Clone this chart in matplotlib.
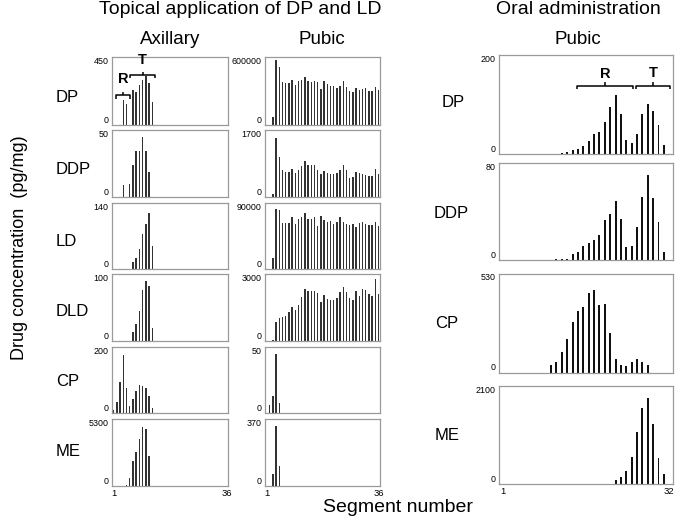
import matplotlib
matplotlib.use('Agg')
import matplotlib.pyplot as plt

plt.rcParams['font.family'] = ['Liberation Sans', 'DejaVu Sans']

# ---------------- data ----------------
compounds_topical = ['DP', 'DDP', 'LD', 'DLD', 'CP', 'ME']
compounds_oral = ['DP', 'DDP', 'CP', 'ME']

# Axillary (topical): start segment + values (0 = no bar)
axi_start = {'DP': 4, 'DDP': 4, 'LD': 7, 'DLD': 7, 'CP': 1, 'ME': 5}
axi_DP = [164, 140, 0, 230, 220, 265, 297, 320, 275, 153]
axi_DDP = [9, 0, 10, 24, 34, 34, 45, 34, 18.5]
axi_LD = [14.7, 23.6, 42.7, 75, 96, 119, 48.6]
axi_DLD = [13.5, 25, 45, 76, 89.5, 82.5, 19.5]
axi_CP = [10, 33, 95, 176, 76, 22, 41, 67, 84, 82, 77, 51, 15]
axi_ME = [80, 612, 1940, 2690, 3750, 4680, 4520, 2370, 30]
axi_ymax = {'DP': 450, 'DDP': 50, 'LD': 140, 'DLD': 100, 'CP': 200, 'ME': 5300}

# Pubic (topical)
pub_start = {'DP': 3, 'DDP': 3, 'LD': 3, 'DLD': 3, 'CP': 2, 'ME': 3}
pub_DP = [70000, 567000, 509000, 373000, 364000, 367000, 397000, 348000, 385000,
          391000, 424000, 388000, 376000, 385000, 379000, 312000, 382000, 355000,
          340000, 342000, 327000, 345000, 385000, 336000, 294000, 288000, 324000,
          303000, 318000, 320000, 297000, 297000, 330000, 303000]
pub_DDP = [86, 1490, 1020, 690, 630, 630, 716, 604, 690, 777, 906, 820, 803, 803,
           673, 578, 665, 621, 578, 587, 604, 690, 803, 673, 492, 518, 630, 604,
           587, 560, 544, 535, 708, 587]
pub_LD = [14500, 81800, 80400, 62700, 63600, 63600, 70900, 61800, 68200, 71800,
          76400, 69100, 69100, 71800, 59500, 72700, 67300, 64500, 65500, 61400,
          64500, 70900, 64500, 61400, 60000, 62300, 58200, 63600, 64500, 62000,
          60000, 60000, 64500, 59100]
pub_DLD = [60, 860, 1030, 1080, 1110, 1320, 1520, 1390, 1630, 1960, 2310, 2230,
           2260, 2250, 2130, 1760, 2060, 1880, 1820, 1850, 1940, 2190, 2400, 2190,
           1910, 1820, 2260, 2000, 2310, 2290, 2110, 2000, 2770, 2110]
pub_CP = [5.8, 13, 44.5, 7.9]
pub_ME = [65, 329, 111]
pub_ymax = {'DP': 600000, 'DDP': 1700, 'LD': 90000, 'DLD': 3000, 'CP': 50, 'ME': 370}

# Oral administration, pubic
oral_start = {'DP': 12, 'DDP': 11, 'CP': 10, 'ME': 22}
oral_DP = [2.8, 4.9, 7.7, 9.1, 16, 26.7, 41, 43.5, 65, 94, 120, 81, 28, 22, 40,
           81, 102, 86, 58, 18]
oral_DDP = [0.8, 0.8, 1.1, 5, 6.3, 11.6, 13.8, 16.2, 20.4, 33, 38, 49, 33.6, 10.5,
            11.8, 27, 52, 70, 51, 31, 6.9]
oral_CP = [37.5, 57, 109, 182, 268, 328, 348, 423, 443, 364, 369, 212, 71, 37.5,
           34, 55, 70, 54, 37.5]
oral_ME = [65, 144, 280, 568, 1107, 1632, 1833, 1287, 546, 201]
oral_ymax = {'DP': 200, 'DDP': 80, 'CP': 530, 'ME': 2100}

axi_vals = {'DP': axi_DP, 'DDP': axi_DDP, 'LD': axi_LD, 'DLD': axi_DLD, 'CP': axi_CP, 'ME': axi_ME}
pub_vals = {'DP': pub_DP, 'DDP': pub_DDP, 'LD': pub_LD, 'DLD': pub_DLD, 'CP': pub_CP, 'ME': pub_ME}
oral_vals = {'DP': oral_DP, 'DDP': oral_DDP, 'CP': oral_CP, 'ME': oral_ME}

# bracket annotations (segment ranges) for DP panels
axi_R = (1.8, 6.0)
axi_T = (6.1, 13.95)
oral_R = (14.85, 25.2)
oral_T = (25.9, 32.1)

# ---------------- layout ----------------
W, H = 676, 518
fig = plt.figure(figsize=(W / 100, H / 100), dpi=100)


def add_ax(l, r, t, b):
    return fig.add_axes([l / W, 1 - b / H, (r - l) / W, (b - t) / H])


top_rows = [(56.5, 125), (130, 197), (203.5, 269), (274, 341), (347, 413), (419, 486)]
oral_rows = [(55, 154), (163, 260), (273.5, 372.5), (386, 483.5)]
col_axi = (112, 228)
col_pub = (265, 380)
col_oral = (499, 673)

EDGE = '#9a9a9a'


def style(ax, ymax, xlim, xt, show_x):
    ax.set_ylim(0, ymax)
    ax.set_xlim(*xlim)
    ax.set_yticks([0, ymax])
    ax.set_yticklabels(['0', str(ymax)], fontsize=6.4)
    labs = ax.get_yticklabels()
    labs[0].set_va('bottom')
    labs[1].set_va('top')
    ax.tick_params(axis='both', length=0, pad=2.5)
    if show_x:
        ax.set_xticks(xt)
        ax.set_xticklabels([str(v) for v in xt], fontsize=6.8)
    else:
        ax.set_xticks([])
    for s in ax.spines.values():
        s.set_color(EDGE)
        s.set_linewidth(0.9)


def draw(ax, start, vals, width, color):
    segs = list(range(start, start + len(vals)))
    ax.bar(segs, vals, width=width, color=color, linewidth=0)


def bracket(ax, rng, y, tip, up, label, label_y, fs):
    x0, x1 = rng
    xc = (x0 + x1) / 2
    kw = dict(color='black', lw=1.1, clip_on=False, solid_capstyle='butt')
    ax.plot([x0, x0, x1, x1], [y - tip, y, y, y - tip], **kw)
    ax.plot([xc, xc], [y, y + up], **kw)
    ax.text(xc, label_y, label, ha='center', va='center', fontsize=fs,
            fontweight='bold', clip_on=False)


for i, c in enumerate(compounds_topical):
    t, b = top_rows[i]
    last = (i == len(compounds_topical) - 1)
    ax = add_ax(col_axi[0], col_axi[1], t, b)
    draw(ax, axi_start[c], axi_vals[c], 0.44, '#333333')
    style(ax, axi_ymax[c], (0.5, 36.5), [1, 36], last)
    if c == 'DP':
        bracket(ax, axi_R, 198, 27, 22, 'R', 299, 10.5)
        bracket(ax, axi_T, 328, 22, 23, 'T', 427, 10.5)
    ax2 = add_ax(col_pub[0], col_pub[1], t, b)
    draw(ax2, pub_start[c], pub_vals[c], 0.44, '#333333')
    style(ax2, pub_ymax[c], (0.5, 36.5), [1, 36], last)

for i, c in enumerate(compounds_oral):
    t, b = oral_rows[i]
    last = (i == len(compounds_oral) - 1)
    ax = add_ax(col_oral[0], col_oral[1], t, b)
    draw(ax, oral_start[c], oral_vals[c], 0.36, '#111111')
    style(ax, oral_ymax[c], (0.3, 32.7), [1, 32], last)
    if c == 'DP':
        bracket(ax, oral_R, 137.5, 7, 7, 'R', 162, 10.5)
        bracket(ax, oral_T, 137.5, 7, 7, 'T', 163, 10.5)

# ---------------- text ----------------
def ftext(x, y, s, **kw):
    fig.text(x / W, 1 - y / H, s, **kw)


ftext(240, 9, 'Topical application of DP and LD', ha='center', va='center', fontsize=14)
ftext(578, 9, 'Oral administration', ha='center', va='center', fontsize=14)
ftext(170, 39, 'Axillary', ha='center', va='center', fontsize=13.5)
ftext(322, 39, 'Pubic', ha='center', va='center', fontsize=13.5)
ftext(578, 39, 'Pubic', ha='center', va='center', fontsize=13.5)

left_label_y = [97, 170, 241, 311, 381, 452]
for c, y in zip(compounds_topical, left_label_y):
    ftext(56, y, c, ha='left', va='center', fontsize=12)

oral_label_pos = [(453, 103), (451, 213), (447, 324), (447, 435)]
for c, (x, y) in zip(compounds_oral, oral_label_pos):
    ftext(x, y, c, ha='center', va='center', fontsize=12)

ftext(20, 248, 'Drug concentration  (pg/mg)', ha='center', va='center',
      rotation=90, fontsize=13)
ftext(398, 507, 'Segment number', ha='center', va='center', fontsize=14)

fig.savefig('out.png', dpi=100)
